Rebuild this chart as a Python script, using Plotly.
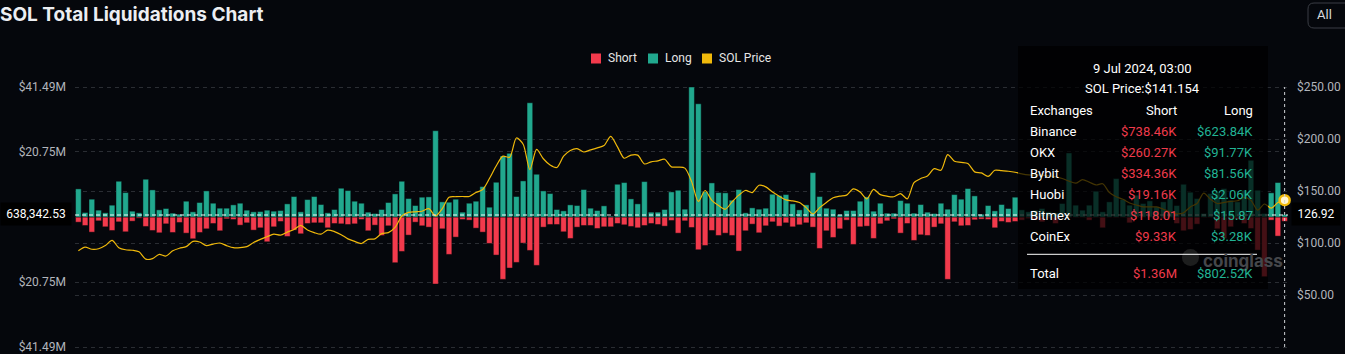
import plotly.graph_objects as go

# ---------------- data (values in $M for liquidations, $ for price) ----------------
long_m = [
    8.97, 1.43, 5.68, 2.18, 1.33, 3.77, 11.41, 7.80, 1.86, 1.33,
    12.05, 8.65, 2.28, 2.71, 1.22, 0.90, 5.04, 1.65, 4.62, 8.33,
    4.40, 2.81, 2.81, 3.87, 4.40, 2.18, 1.65, 1.75, 2.18, 1.86,
    2.07, 4.19, 6.53, 1.65, 5.57, 6.53, 3.98, 1.33, 2.39, 9.18,
    8.44, 5.04, 4.40, 1.54, 1.11, 2.39, 4.62, 7.38, 11.41, 5.89,
    3.66, 6.32, 6.42, 27.54, 4.83, 4.72, 5.68, 1.54, 4.40, 5.04,
    9.71, 3.13, 11.09, 19.48, 20.33, 6.53, 11.52, 36.46, 13.64, 8.33,
    7.48, 2.39, 1.96, 3.87, 3.66, 8.76, 2.81, 2.07, 3.56, 0.27,
    10.45, 10.99, 5.78, 4.19, 11.30, 1.54, 1.54, 2.39, 8.01, 8.54,
    2.49, 41.49, 36.14, 8.10, 10.88, 7.80, 7.70, 5.36, 8.76, 1.33,
    2.92, 2.49, 2.81, 7.27, 6.85, 7.16, 4.19, 2.28, 3.87, 14.17,
    6.53, 2.81, 2.49, 0.80, 2.07, 2.07, 5.04, 6.42, 1.86, 4.40,
    1.22, 1.22, 5.25, 4.40, 1.22, 3.98, 1.54, 1.11, 4.40, 2.49,
    7.16, 5.68, 9.08, 6.74, 0.90, 3.66, 1.96, 3.98, 2.71, 6.32,
    2.28, 1.65, 2.18, 2.71, 1.65, 1.33, 4.30, 20.43, 3.77, 2.18,
    3.77, 8.23, 1.65, 4.83, 12.26, 5.57, 3.77, 6.95, 4.30, 5.15,
    3.24, 4.83, 5.89, 3.66, 10.45, 7.91, 5.89, 1.11, 7.48, 7.91,
    9.08, 5.36, 4.83, 8.54, 18.10, 8.54, 1.11, 7.70, 11.00, 0.80,
]

short_m = [
    1.65, 2.71, 4.83, 1.22, 3.13, 4.30, 1.54, 4.72, 1.33, 0.37,
    3.02, 4.30, 5.04, 2.18, 4.94, 1.75, 5.15, 6.95, 4.94, 3.77,
    2.07, 4.40, 0.58, 0.80, 2.60, 1.86, 4.19, 3.45, 7.91, 3.13,
    1.43, 6.21, 4.19, 5.36, 2.07, 1.86, 1.86, 3.45, 2.07, 2.18,
    2.39, 2.18, 0.80, 4.40, 2.60, 5.89, 2.81, 14.59, 10.99, 5.78,
    1.65, 2.81, 3.24, 21.39, 3.77, 11.94, 6.42, 0.80, 1.01, 3.56,
    4.83, 8.44, 12.15, 19.90, 16.29, 14.49, 8.33, 10.67, 15.44, 3.24,
    2.39, 2.39, 4.72, 6.85, 3.24, 2.71, 2.71, 3.66, 3.13, 3.13,
    2.07, 2.49, 3.02, 3.45, 2.71, 2.07, 2.39, 2.92, 1.11, 5.15,
    1.22, 3.34, 10.45, 9.08, 4.30, 5.89, 5.15, 5.89, 10.88, 4.40,
    2.28, 5.04, 2.81, 1.54, 2.92, 1.86, 3.13, 2.49, 1.86, 3.24,
    10.03, 4.40, 6.53, 3.77, 1.01, 8.76, 3.13, 2.92, 6.85, 2.18,
    1.22, 0.58, 5.15, 2.07, 7.48, 5.68, 5.89, 3.24, 2.18, 19.90,
    1.54, 2.81, 2.71, 0.90, 0.69, 0.80, 3.45, 1.43, 1.75, 1.43,
    1.01, 0.48, 0.80, 1.54, 0.48, 2.07, 0.16, 0.20, 0.16, 0.16,
    1.01, 0.20, 3.45, 0.16, 0.20, 0.16, 1.86, 0.16, 0.16, 0.16,
    0.48, 0.37, 0.16, 2.07, 4.40, 3.98, 2.28, 0.16, 0.20, 3.77,
    6.85, 3.13, 0.80, 2.07, 3.66, 10.56, 19.05, 1.00, 6.10, 1.36,
]

sol_price = [
    92.5, 96, 94, 94.5, 97.5, 102.5, 95.5, 93.5, 93, 91.5,
    84.5, 85, 89, 87.5, 92.5, 95, 96.5, 101.5, 101, 97.5,
    99, 100, 97.5, 95.5, 95.5, 96.5, 100.5, 103.5, 106, 108.5,
    107.6, 110.5, 113, 117, 112.5, 110, 108.5, 112.4, 111, 108,
    104, 101.5, 99.5, 103.5, 104, 109, 110, 115, 126, 129.5,
    130, 130.5, 133, 126, 133, 144, 144.5, 144.7, 144.7, 148.5,
    151.5, 162, 174, 183.5, 182.5, 201, 195, 170.5, 190, 181,
    175, 172.6, 183.5, 189, 190.8, 187.5, 189.5, 191.5, 193.7, 202.6,
    192.4, 181.5, 184.5, 184.5, 176, 178, 179, 180.5, 173.2, 173,
    172, 159, 140, 150.5, 141, 136, 132.5, 139.5, 146, 150.5,
    148.5, 155.5, 154, 149, 145, 141.5, 140.5, 139, 134, 128,
    134, 139, 143.5, 145, 146, 152, 149, 142.5, 151.5, 146.5,
    145, 144.5, 147.5, 142.5, 158, 162, 164.5, 171.5, 170, 185,
    178.6, 177.5, 176.4, 168.4, 167.4, 164, 170, 169.5, 169, 168,
    166.5, 165.5, 165.2, 165.2, 164.5, 163.6, 162, 159.5, 157.5, 161,
    158.5, 155.8, 157, 148.5, 144.5, 142, 138.5, 136.5, 134.8, 134.7,
    134.7, 132.5, 130, 128, 129, 134.7, 138, 148, 142, 138,
    139, 140, 140.6, 144, 141, 131.6, 137.5, 133.5, 139, 141.154,
]

left_tick_vals = [-41.49, -20.75, 0, 20.75, 41.49]
left_tick_text = ["$41.49M", "$20.75M", "", "$20.75M", "$41.49M"]
right_tick_vals = [0, 50, 100, 150, 200, 250]
right_tick_text = ["", "$50.00", "$100.00", "$150.00", "$200.00", "$250.00"]

legend_names = ["Short", "Long", "SOL Price"]

tooltip_date = "9 Jul 2024, 03:00"
tooltip_price = "SOL Price:$141.154"
exchanges = ["Binance", "OKX", "Bybit", "Huobi", "Bitmex", "CoinEx"]
ex_short = ["$738.46K", "$260.27K", "$334.36K", "$19.16K", "$118.01", "$9.33K"]
ex_long = ["$623.84K", "$91.77K", "$81.56K", "$2.06K", "$15.87", "$3.28K"]
total_short = "$1.36M"
total_long = "$802.52K"
cross_value = 0.638342  # $M, crosshair level on left axis
cross_left_label = "638,342.53"
cross_right_label = "126.92"

# ---------------- layout helpers ----------------
W, H = 1345, 354
PADPX = 4  # extra pixels of axis range above/below the outermost grid lines
ML, MR, MT, MB = 75, 57, 87 - PADPX, 7 - PADPX
PW, PH = W - ML - MR, H - MT - MB
INNER = PH - 2 * PADPX  # pixel span between -41.49M and +41.49M
EPS = PADPX / (INNER / 2)


def px(x):
    return (x - ML) / PW


def py(y):
    return (H - MB - y) / PH


BG = "#05070c"
RED = "#f23a4c"
TEAL = "#21a88e"
GOLD = "#f0b90b"
TXT_RED = "#ef3b4b"
TXT_TEAL = "#21b394"
GRID = "#2a2d33"
FONT = "Roboto"

x = list(range(len(long_m)))
lmax = left_tick_vals[-1]
pmax = right_tick_vals[-1]

fig = go.Figure()
fig.add_trace(go.Bar(
    x=x, y=[-v for v in short_m], name=legend_names[0], width=0.84,
    marker=dict(color=RED, line=dict(color="rgba(5,7,12,0.45)", width=1)),
    hoverinfo="skip", showlegend=False))
fig.add_trace(go.Bar(
    x=x, y=long_m, name=legend_names[1], width=0.84,
    marker=dict(color=TEAL, line=dict(color="rgba(5,7,12,0.45)", width=1)),
    hoverinfo="skip", showlegend=False))
fig.add_trace(go.Scatter(
    x=x, y=sol_price, yaxis="y2", mode="lines", name=legend_names[2],
    line=dict(color=GOLD, width=1.2, shape="spline", smoothing=0.8),
    showlegend=False, hoverinfo="skip"))
fig.add_trace(go.Scatter(
    x=[x[-1]], y=[sol_price[-1]], yaxis="y2", mode="markers", cliponaxis=False,
    marker=dict(size=10, color="#fff6d0", line=dict(color=GOLD, width=2.5)),
    showlegend=False, hoverinfo="skip"))

shapes = []
ann = []


def text(xp, yp, s, color="#ffffff", size=13, anchor="left", family=FONT, **kw):
    ann.append(dict(xref="paper", yref="paper", x=px(xp), y=py(yp), text=s, showarrow=False,
                    xanchor=anchor, yanchor="middle",
                    font=dict(family=family, size=size, color=color), **kw))


# legend (square swatches, tight spacing like the reference)
legend_colors = [RED, TEAL, GOLD]
legend_x = [591, 648, 702]
for name, col, lx in zip(legend_names, legend_colors, legend_x):
    shapes.append(dict(type="rect", xref="paper", yref="paper",
                       x0=px(lx), x1=px(lx + 10), y0=py(63.5), y1=py(53.5),
                       fillcolor=col, line=dict(width=0)))
    text(lx + 14.5, 58.5, name, color="#e6e6e6", size=12)

# crosshair
shapes.append(dict(type="line", xref="paper", x0=0, x1=1, yref="y", y0=cross_value, y1=cross_value,
                   line=dict(color="rgba(255,255,255,0.95)", width=1, dash="4px,3px"), layer="above"))
shapes.append(dict(type="line", xref="x", x0=x[-1], x1=x[-1], yref="y", y0=-lmax, y1=lmax,
                   line=dict(color="#cfd2d6", width=1, dash="3px,3px"), layer="above"))
# watermark logo (faint ghost blob, sits under the tooltip)
shapes.append(dict(type="circle", xref="paper", yref="paper",
                   x0=px(1182), x1=px(1199), y0=py(266), y1=py(249),
                   fillcolor="#6a6b6e", line=dict(width=0), layer="above"))
# tooltip box
shapes.append(dict(type="rect", xref="paper", yref="paper",
                   x0=px(1018), x1=px(1268), y0=py(289), y1=py(46),
                   fillcolor="rgba(0,0,0,0.72)", line=dict(width=0), layer="above"))
shapes.append(dict(type="line", xref="paper", yref="paper",
                   x0=px(1027), x1=px(1257), y0=py(254.3), y1=py(254.3),
                   line=dict(color="#ffffff", width=1), layer="above"))
# "All" button (rounded rectangle partly off screen)
bx0, bx1, by0, by1, r = 1308, 1362, 3, 28, 6
path = (f"M {px(bx0 + r)} {py(by0)} L {px(bx1)} {py(by0)} L {px(bx1)} {py(by1)} "
        f"L {px(bx0 + r)} {py(by1)} Q {px(bx0)} {py(by1)} {px(bx0)} {py(by1 - r)} "
        f"L {px(bx0)} {py(by0 + r)} Q {px(bx0)} {py(by0)} {px(bx0 + r)} {py(by0)} Z")
shapes.append(dict(type="path", xref="paper", yref="paper", path=path,
                   line=dict(color="#3a3d44", width=1), fillcolor="rgba(0,0,0,0)"))

# watermark
text(1242.5, 261, "<b>coinglass</b>", color="#45474b", size=17, anchor="center", family="Inter")
# tooltip content
text(1142, 68.3, tooltip_date, anchor="center")
text(1142, 89, tooltip_price, anchor="center")
text(1027.5, 110, "Exchanges")
text(1178.5, 110, "Short", anchor="right")
text(1255, 110, "Long", anchor="right")
row_y = [131, 152.2, 173.3, 194.4, 215.5, 236.6]
for name, s, l, yy in zip(exchanges, ex_short, ex_long, row_y):
    text(1027.5, yy, name)
    text(1178.5, yy, s, color=TXT_RED, anchor="right")
    text(1255, yy, l, color=TXT_TEAL, anchor="right")
text(1027.5, 273.3, "Total")
text(1178.5, 273.3, total_short, color=TXT_RED, anchor="right")
text(1255, 273.3, total_long, color=TXT_TEAL, anchor="right")
# crosshair labels
ann.append(dict(xref="paper", yref="paper", x=px(36), y=py(214.5), text=cross_left_label,
                showarrow=False, xanchor="center", yanchor="middle", bgcolor="#000000",
                width=64, height=16, borderpad=3,
                font=dict(family=FONT, size=12, color="#ffffff")))
ann.append(dict(xref="paper", yref="paper", x=px(1316), y=py(214.5), text=cross_right_label,
                showarrow=False, xanchor="center", yanchor="middle", bgcolor="#000000",
                width=42, height=16, borderpad=3,
                font=dict(family=FONT, size=12, color="#ffffff")))
# "All" button text
text(1324.5, 14.5, "All", color="#d8dade", size=13, anchor="center")

fig.update_layout(
    width=W, height=H,
    margin=dict(l=ML, r=MR, t=MT, b=MB, pad=0, autoexpand=False),
    paper_bgcolor=BG, plot_bgcolor=BG,
    barmode="relative",
    showlegend=False,
    title=dict(text="<b>SOL Total Liquidations Chart</b>", xref="container", yref="container",
               x=0, xanchor="left", y=1 - 14 / H, yanchor="middle",
               pad=dict(l=0, r=0, t=0, b=0), automargin=False,
               font=dict(family="Inter", size=19, color="#eceef2")),
    xaxis=dict(range=[-0.5, len(x) - 0.5], showgrid=False, showticklabels=False,
               zeroline=False, showline=False, ticks="", automargin=False),
    yaxis=dict(range=[-lmax * (1 + EPS), lmax * (1 + EPS)],
               tickvals=left_tick_vals, ticktext=left_tick_text,
               showgrid=True, gridcolor=GRID, griddash="4px,4px", gridwidth=1,
               zeroline=False, showline=False, ticks="", ticklabelstandoff=8,
               ticklabeloverflow="allow", automargin=False,
               tickfont=dict(family=FONT, size=12, color="#b2b5bc")),
    yaxis2=dict(range=[-pmax / 2 * EPS, pmax + pmax / 2 * EPS], overlaying="y", side="right",
                tickvals=right_tick_vals, ticktext=right_tick_text,
                showgrid=True, gridcolor=GRID, griddash="4px,4px",
                gridwidth=1, zeroline=False, showline=False, ticks="", ticklabelstandoff=8,
                ticklabeloverflow="allow", automargin=False,
                tickfont=dict(family=FONT, size=12, color="#b2b5bc")),
    shapes=shapes, annotations=ann,
    bargap=0.1,
)

fig.write_html("out.html")
